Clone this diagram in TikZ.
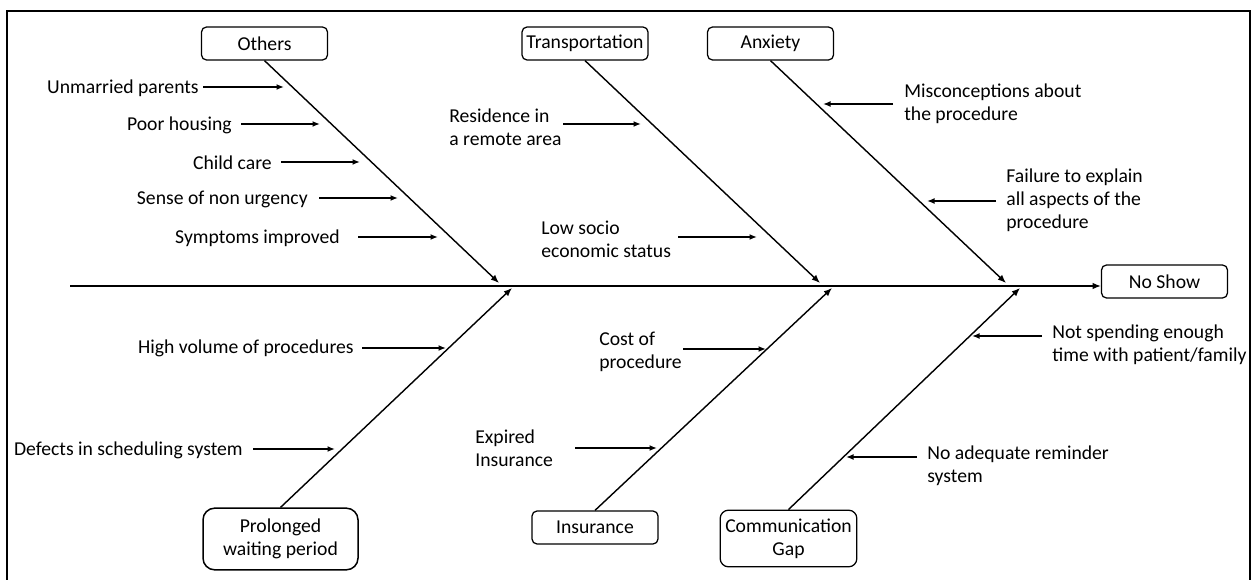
\documentclass[tikz,border=0pt]{standalone}
\usepackage{fontspec}
\setmainfont{Carlito}
\usetikzlibrary{arrows.meta}
\begin{document}
\begin{tikzpicture}[x=0.6pt,y=-0.6pt,
  every node/.style={font=\fontsize{11.8}{13.9}\selectfont, inner sep=0pt},
  catbox/.style={draw, rounded corners=3pt, line width=0.75pt, minimum width=75.6pt, minimum height=19.8pt, inner sep=2pt},
  bone/.style={line width=0.85pt, -{Latex[length=5pt,width=4pt]}},
  sub/.style={line width=0.8pt, -{Latex[length=4.5pt,width=3.5pt]}},
  lbl/.style={align=left}]
\useasboundingbox (0,0) rectangle (1256,580);
\draw[line width=1.3pt] (7,580) -- (7,11) -- (1250,11) -- (1250,580);

% category boxes
\node[catbox] (others) at (264.5,43.5) {Others};
\node[catbox] (transp) at (585,43.5) {Transportation};
\node[catbox] (anxiety) at (770.5,43.5) {Anxiety};
\node[catbox] (noshow) at (1164.5,281.5) {No Show};
\node[catbox, rounded corners=7pt, line width=0.9pt, minimum width=93pt, minimum height=37pt, align=center] (prolonged) at (280.5,539) {Prolonged\\waiting period};
\node[catbox] (insurance) at (595,527.5) {Insurance};
\node[catbox, rounded corners=5pt, minimum width=82pt, minimum height=34pt, align=center] (comm) at (788.5,538.5) {Communication\\Gap};

% spine
\coordinate (spineL) at (70,286);
\draw[bone] (spineL) -- (spineL -| noshow.west);

% bone tips
\coordinate (tOthers) at (499,283);
\coordinate (tTransp) at (820,283);
\coordinate (tAnx) at (1006,283);
\coordinate (tProl) at (512,288);
\coordinate (tIns) at (832,288);
\coordinate (tComm) at (1020,288);

\draw[bone] (others.south) -- (tOthers);
\draw[bone] (transp.south) -- (tTransp);
\draw[bone] (anxiety.south) -- (tAnx);
\draw[bone] (prolonged.north) -- (tProl);
\draw[bone] (insurance.north) -- (tIns);
\draw[bone] (comm.north) -- (tComm);

% Others causes
\node[anchor=east] (c1) at (199,88) {Unmarried parents};
\coordinate (c1a) at (203,87); \coordinate (c1b) at (284,87);
\draw[sub] (c1a) -- (c1b);
\node[anchor=east] (c2) at (232,125) {Poor housing};
\coordinate (c2a) at (241,124); \coordinate (c2b) at (320,124);
\draw[sub] (c2a) -- (c2b);
\node[anchor=east] (c3) at (272,163) {Child care};
\coordinate (c3a) at (281,162); \coordinate (c3b) at (360,162);
\draw[sub] (c3a) -- (c3b);
\node[anchor=east] (c4) at (308,199) {Sense of non urgency};
\coordinate (c4a) at (319,198); \coordinate (c4b) at (398,198);
\draw[sub] (c4a) -- (c4b);
\node[anchor=east] (c5) at (340,238) {Symptoms improved};
\coordinate (c5a) at (358,237); \coordinate (c5b) at (438,237);
\draw[sub] (c5a) -- (c5b);

% Transportation causes
\node[lbl, anchor=west] (c6) at (449,127) {Residence in\\a remote area};
\coordinate (c6a) at (563,124); \coordinate (c6b) at (641,124);
\draw[sub] (c6a) -- (c6b);
\node[lbl, anchor=west] (c7) at (541,239) {Low socio\\economic status};
\coordinate (c7a) at (678,237); \coordinate (c7b) at (757,237);
\draw[sub] (c7a) -- (c7b);

% Anxiety causes
\node[lbl, anchor=west] (c8) at (904,104) {Misconceptions about\\the procedure};
\coordinate (c8a) at (893,104); \coordinate (c8b) at (823,104);
\draw[sub] (c8a) -- (c8b);
\node[lbl, anchor=west] (c9) at (1006,200) {Failure to explain\\all aspects of the\\procedure};
\coordinate (c9a) at (996,201); \coordinate (c9b) at (927,201);
\draw[sub] (c9a) -- (c9b);

% Prolonged waiting causes
\node[anchor=east] (c10) at (354,348) {High volume of procedures};
\coordinate (c10a) at (362,348); \coordinate (c10b) at (446,348);
\draw[sub] (c10a) -- (c10b);
\node[anchor=east] (c11) at (243,450) {Defects in scheduling system};
\coordinate (c11a) at (253,449); \coordinate (c11b) at (335,449);
\draw[sub] (c11a) -- (c11b);

% Insurance causes
\node[lbl, anchor=west] (c12) at (599,352) {Cost of\\procedure};
\coordinate (c12a) at (683,349); \coordinate (c12b) at (766,349);
\draw[sub] (c12a) -- (c12b);
\node[lbl, anchor=west] (c13) at (475,448) {Expired\\Insurance};
\coordinate (c13a) at (575,448); \coordinate (c13b) at (657,448);
\draw[sub] (c13a) -- (c13b);

% Communication causes
\node[lbl, anchor=west] (c14) at (1052,345) {Not spending enough\\time with patient/family};
\coordinate (c14a) at (1042,336); \coordinate (c14b) at (972,336);
\draw[sub] (c14a) -- (c14b);
\node[lbl, anchor=west] (c15) at (927,466) {No adequate reminder\\system};
\coordinate (c15a) at (917,457); \coordinate (c15b) at (846,457);
\draw[sub] (c15a) -- (c15b);
\end{tikzpicture}
\end{document}
